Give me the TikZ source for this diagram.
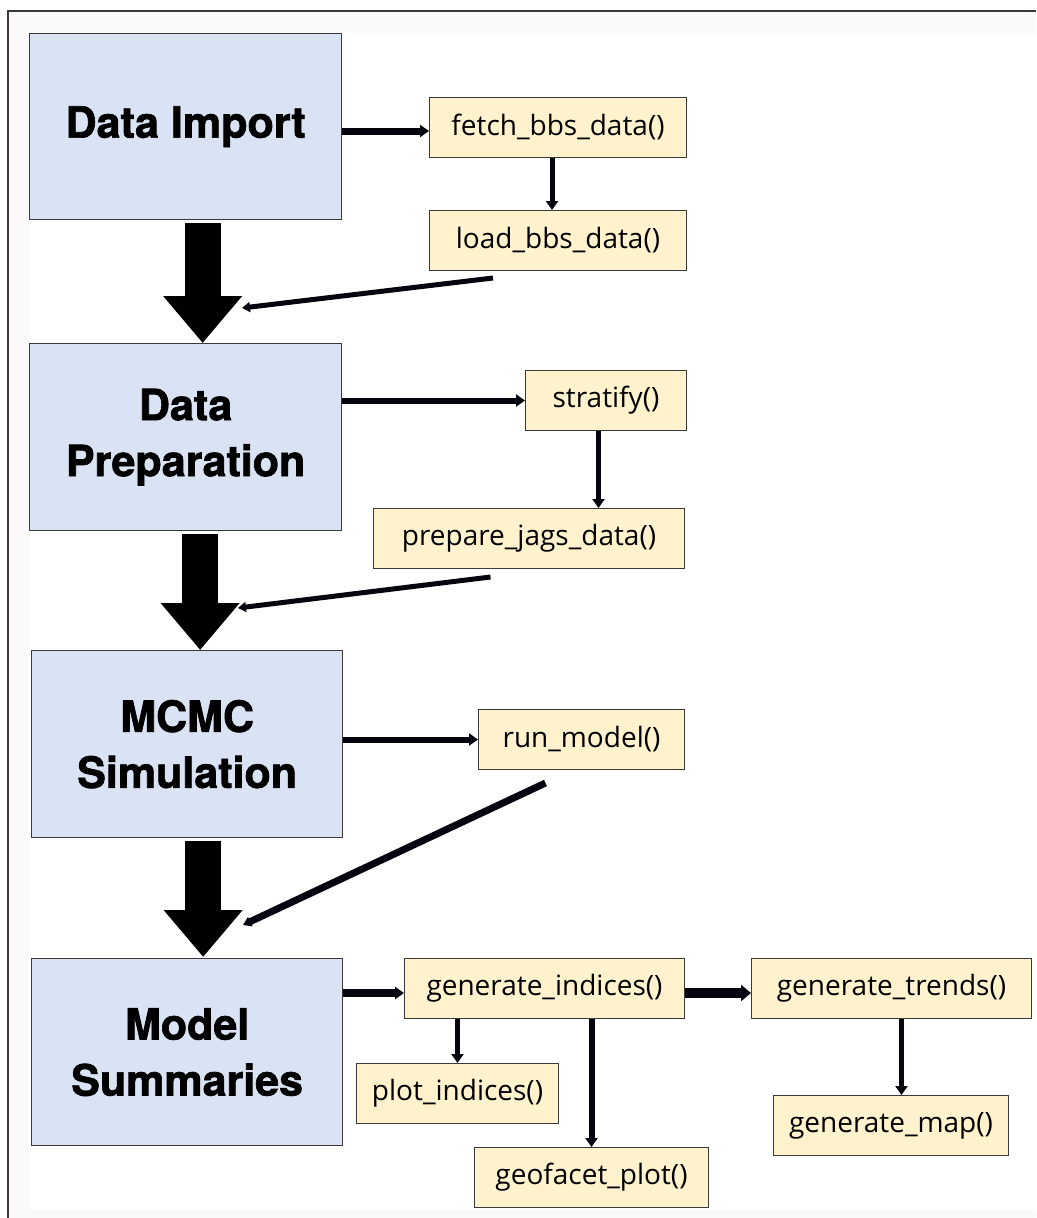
\documentclass[tikz,border=0pt]{standalone}
\usepackage{fontspec}
\setmainfont{Open Sans}
\newfontfamily\bigfont{TeX Gyre Heros}[BoldFeatures={FakeBold=1.6}]
\usetikzlibrary{arrows.meta,calc}
\definecolor{stageblue}{HTML}{DAE3F3}
\definecolor{fnyellow}{HTML}{FFF2CC}
\definecolor{edgegrey}{HTML}{3A3A3A}
\definecolor{frameback}{HTML}{FBF9F9}
\definecolor{arrowink}{HTML}{05050F}
\begin{document}
\begin{tikzpicture}[x=1pt,y=-1pt,
  stage/.style={draw=edgegrey, line width=1.3pt, fill=stageblue, anchor=north west,
    inner sep=0pt, align=center, font=\bigfont\bfseries\fontsize{43}{56}\selectfont},
  fn/.style={draw=edgegrey, line width=1pt, fill=fnyellow, anchor=north west,
    inner sep=0pt, minimum height=60pt, font=\fontsize{28}{32}\selectfont},
  link/.style={draw=arrowink, line width=#1, -{Triangle[length=9pt,width=12pt]}},
  link/.default=6pt,
  feed/.style={draw=arrowink, line width=5pt, -{Triangle[length=8pt,width=10pt]}},
  fatarrow/.style={draw=black, line width=36pt, -{Triangle[length=47pt,width=76pt]}}
]
\useasboundingbox (0,0) rectangle (1036,1218);
% frame
\fill[frameback] (8,11) rectangle (1036,1218);
\fill[white] (29,33) rectangle (1036,1210);
\draw[edgegrey, line width=1.5pt] (8,1218) -- (8,11) -- (1036,11);

% stage boxes
\node[stage, minimum width=312pt, minimum height=186pt] (imp) at (29,33) {Data Import};
\node[stage, minimum width=312pt, minimum height=187pt] (prep) at (29,343) {Data\\Preparation};
\node[stage, minimum width=311pt, minimum height=187pt] (mcmc) at (31,650) {MCMC\\Simulation};
\node[stage, minimum width=311pt, minimum height=187pt] (summ) at (31,958) {Model\\Summaries};

% function boxes
\node[fn, minimum width=257pt] (fetch) at (429,97) {fetch\_bbs\_data()};
\node[fn, minimum width=257pt] (load) at (429,210) {load\_bbs\_data()};
\node[fn, minimum width=161pt] (strat) at (525,370) {stratify()};
\node[fn, minimum width=311pt] (jags) at (373,508) {prepare\_jags\_data()};
\node[fn, minimum width=206pt] (run) at (478,709) {run\_model()};
\node[fn, minimum width=280pt] (ind) at (404,958) {generate\_indices()};
\node[fn, minimum width=280pt] (trends) at (751,958) {generate\_trends()};
\node[fn, minimum width=202pt] (plot) at (356,1063) {plot\_indices()};
\node[fn, minimum width=234pt] (geo) at (474,1147) {geofacet\_plot()};
\node[fn, minimum width=235pt] (map) at (773,1095) {generate\_map()};

% fat block arrows between stages
\draw[fatarrow] ($(imp.south)+(17,3)$) -- ($(prep.north)+(17,0)$);
\draw[fatarrow] ($(prep.south)+(14.5,3)$) -- ($(mcmc.north)+(13,0)$);
\draw[fatarrow] ($(mcmc.south)+(16,3)$) -- ($(summ.north)+(16,-1)$);

% feedback targets on the block arrows, arrow rows and columns
\coordinate (d1) at (242,308);
\coordinate (d2) at (238,608);
\coordinate (d3) at (243,925);
\coordinate (row1) at (0,131);
\coordinate (row4) at (0,993);
\coordinate (c1) at ([xshift=-6pt]fetch.south);
\coordinate (c2) at ([xshift=-7.5pt]strat.south);
\coordinate (c3) at ([xshift=10pt]trends.south);

% stage -> function arrows
\draw[link=7pt] (imp.east |- row1) -- (fetch.west |- row1);
\draw[link=6pt] (prep.east |- strat.west) -- (strat.west);
\draw[link=6pt] (mcmc.east |- run.west) -- (run.west);
\draw[link=8pt] (summ.east |- row4) -- (ind.west |- row4);
\draw[link=10pt, -{Triangle[length=10pt,width=16pt]}] (ind.east |- row4) -- (trends.west |- row4);

% function -> function arrows
\draw[link=5pt] (c1) -- (c1 |- load.north);
\draw[link=5pt] (c2) -- (c2 |- jags.north);
\draw[link=5pt] (ind.south -| plot.north) -- (plot.north);
\draw[link=6pt] (ind.south -| geo.north) -- (geo.north);
\draw[link=5pt] (c3) -- (c3 |- map.north);

% feedback arrows into the block arrows
\draw[feed] ($(load.south)+(-65,7)$) -- (d1);
\draw[feed] ($(jags.south)+(-38.5,8)$) -- (d2);
\draw[feed, line width=7pt] ($(run.south)+(-36,13)$) -- (d3);
\end{tikzpicture}
\end{document}
